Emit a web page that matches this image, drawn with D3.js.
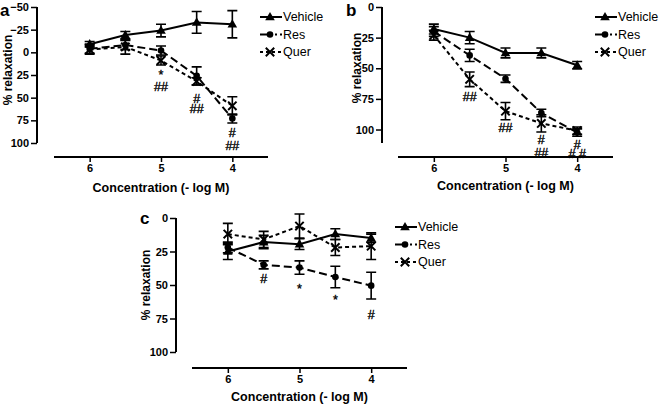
<!DOCTYPE html>
<html><head><meta charset="utf-8">
<script src="https://cdn.jsdelivr.net/npm/d3@7"></script>
<style>
html,body{margin:0;padding:0;background:#fff;}
svg{display:block;font-family:"Liberation Sans",Arial,Helvetica,sans-serif;}
</style></head>
<body>
<svg id="chart" width="662" height="406"></svg>
<script>
// ---------- DATA ----------
const concentrations = [6, 5.5, 5, 4.5, 4];
const xTickValues = [6, 5, 4];
const seriesNames = ["Vehicle", "Res", "Quer"];

const aYTicks = [-50, -25, 0, 25, 50, 75, 100];
const aVehicle = [-9, -19, -24, -33, -31];
const aVehicleErr = [3, 4, 7, 12, 15];
const aRes = [-4, -8, -2, 26, 73];
const aResErr = [5, 5, 5, 10, 5];
const aQuer = [-3, -6, 9, 32, 59];
const aQuerErr = [5, 8, 5, 4, 10];
const aMarks = [[5, 22, "*"], [5, 38, "##"], [4.5, 51, "#"], [4.5, 62, "##"], [4, 88, "#"], [4, 103, "##"]];

const bYTicks = [0, 25, 50, 75, 100];
const bVehicle = [18, 25, 37.5, 37.5, 47.5];
const bVehicleErr = [4, 5, 4, 4, 3];
const bRes = [20, 39.5, 58.5, 86.5, 102.5];
const bResErr = [4, 5, 3, 3, 3];
const bQuer = [23, 59, 85, 95, 101];
const bQuerErr = [4, 6, 7, 7, 3];
const bMarks = [[5.5, 73, "##"], [5, 98, "##"], [4.5, 108, "#"], [4.5, 118.5, "##"], [4, 112, "#"], [4, 119.5, "# #"]];

const cYTicks = [0, 25, 50, 75, 100];
const cVehicle = [25, 18, 19.5, 12, 15];
const cVehicleErr = [6, 5, 4, 4, 3];
const cRes = [22, 35, 37, 44, 50.5];
const cResErr = [4, 3, 5, 8, 10];
const cQuer = [12, 16, 6, 22, 21];
const cQuerErr = [8, 6, 9, 6, 10];
const cMarks = [[5.5, 45.5, "#"], [5, 51, "*"], [4.5, 59, "*"], [4, 72, "#"]];

// ---------- LAYOUT / STYLE ----------
const panels = [
  {letter: "a", yDomain: [-50, 100], yTicks: aYTicks, yAxisX: 37, yRange: [7, 143], xAxisY: 157, xRange: [54, 268],
   series: [[aVehicle, aVehicleErr], [aRes, aResErr], [aQuer, aQuerErr]], marks: aMarks,
   letterPos: [0, 16], ylabPos: [12, 70], xlabY: 192, legend: [260, 17]},
  {letter: "b", yDomain: [0, 111], yTicks: bYTicks, yAxisX: 382, yRange: [7, 143], xAxisY: 157, xRange: [398, 613],
   series: [[bVehicle, bVehicleErr], [bRes, bResErr], [bQuer, bQuerErr]], marks: bMarks,
   letterPos: [346, 16], ylabPos: [361, 68], xlabY: 190, legend: [595, 17]},
  {letter: "c", yDomain: [0, 100], yTicks: cYTicks, yAxisX: 176, yRange: [218, 352], xAxisY: 368, xRange: [192, 407],
   series: [[cVehicle, cVehicleErr], [cRes, cResErr], [cQuer, cQuerErr]], marks: cMarks,
   letterPos: [140, 224], ylabPos: [150, 285], xlabY: 401, legend: [395, 227]}
];
const dashes = [null, "8,4", "4,3"];

const svg = d3.select("#chart");

function drawMarker(g, i, x, y) {
  if (i === 0) {
    g.append("path").attr("d", d3.symbol(d3.symbolTriangle, 40)()).attr("transform", `translate(${x},${y+0.5})`).attr("fill", "#000");
  } else if (i === 1) {
    g.append("circle").attr("cx", x).attr("cy", y).attr("r", 3.3).attr("fill", "#000");
  } else {
    const s = 4.2;
    g.append("path").attr("d", `M${x-s},${y-s}L${x+s},${y+s}M${x-s},${y+s}L${x+s},${y-s}`)
      .attr("stroke", "#000").attr("stroke-width", 2).attr("fill", "none");
  }
}

panels.forEach(p => {
  const g = svg.append("g");
  const x = d3.scaleLinear().domain([6.5, 3.5]).range(p.xRange);
  const y = d3.scaleLinear().domain(p.yDomain).range(p.yRange);

  // y axis
  const ya = g.append("g").attr("transform", `translate(${p.yAxisX},0)`)
    .call(d3.axisLeft(y).tickValues(p.yTicks).tickSize(6).tickPadding(2).tickFormat(d3.format("d")));
  ya.select(".domain").attr("stroke-width", 2).attr("d", `M-0,${p.yRange[0]}V${p.yRange[1]}`);
  ya.selectAll(".tick line").attr("stroke-width", 1.5);
  ya.selectAll("text").attr("font-size", 11).attr("font-weight", "bold").attr("font-family", "Liberation Sans, Arial, sans-serif");

  // x axis
  const xa = g.append("g").attr("transform", `translate(0,${p.xAxisY})`)
    .call(d3.axisBottom(x).tickValues(xTickValues).tickSize(5).tickPadding(2).tickFormat(d3.format("d")));
  xa.select(".domain").attr("stroke-width", 2).attr("d", `M${p.xRange[0]},0H${p.xRange[1]}`);
  xa.selectAll(".tick line").attr("stroke-width", 1.5);
  xa.selectAll("text").attr("font-size", 11).attr("font-weight", "bold").attr("font-family", "Liberation Sans, Arial, sans-serif");

  // titles
  const xmid = (p.xRange[0] + p.xRange[1]) / 2;
  g.append("text").attr("x", xmid).attr("y", p.xlabY).attr("text-anchor", "middle")
    .attr("font-size", 12.5).attr("font-weight", "bold").text("Concentration (- log M)");
  g.append("text").attr("transform", `translate(${p.ylabPos[0]},${p.ylabPos[1]}) rotate(-90)`)
    .attr("text-anchor", "middle").attr("font-size", 12).attr("font-weight", "bold").text("% relaxation");
  g.append("text").attr("x", p.letterPos[0]).attr("y", p.letterPos[1])
    .attr("font-size", 17).attr("font-weight", "bold").text(p.letter);

  // series
  p.series.forEach(([vals, errs], i) => {
    const pts = concentrations.map((c, k) => ({c, v: vals[k], e: errs[k]}));
    const line = d3.line().x(d => x(d.c)).y(d => y(d.v));
    g.append("path").datum(pts).attr("d", line).attr("fill", "none").attr("stroke", "#000")
      .attr("stroke-width", 2).attr("stroke-dasharray", dashes[i]);
    pts.forEach(d => {
      const cx = x(d.c);
      g.append("path").attr("d", `M${cx},${y(d.v - d.e)}V${y(d.v + d.e)}M${cx-5},${y(d.v - d.e)}H${cx+5}M${cx-5},${y(d.v + d.e)}H${cx+5}`)
        .attr("stroke", "#000").attr("stroke-width", 1.6).attr("fill", "none");
      drawMarker(g, i, cx, y(d.v));
    });
  });

  // significance marks
  p.marks.forEach(([c, v, t]) => {
    g.append("text").attr("x", x(c)).attr("y", y(v)).attr("dy", t === "*" ? "0.55em" : "0.36em")
      .attr("text-anchor", "middle").attr("font-size", 12.5).attr("fill", "#000")
      .attr("stroke", "#000").attr("stroke-width", 0.35).text(t);
  });

  // legend
  const [lx, ly] = p.legend;
  seriesNames.forEach((name, i) => {
    const yy = ly + i * 17.5;
    g.append("line").attr("x1", lx).attr("x2", lx + 22).attr("y1", yy).attr("y2", yy)
      .attr("stroke", "#000").attr("stroke-width", 2).attr("stroke-dasharray", dashes[i] ? (i === 1 ? "12,3,2,3" : "3,3") : null);
    drawMarker(g, i, lx + 10, yy);
    g.append("text").attr("x", lx + 23).attr("y", yy).attr("dy", "0.35em").attr("font-size", 12.5).text(name);
  });
});
</script>
</body></html>
